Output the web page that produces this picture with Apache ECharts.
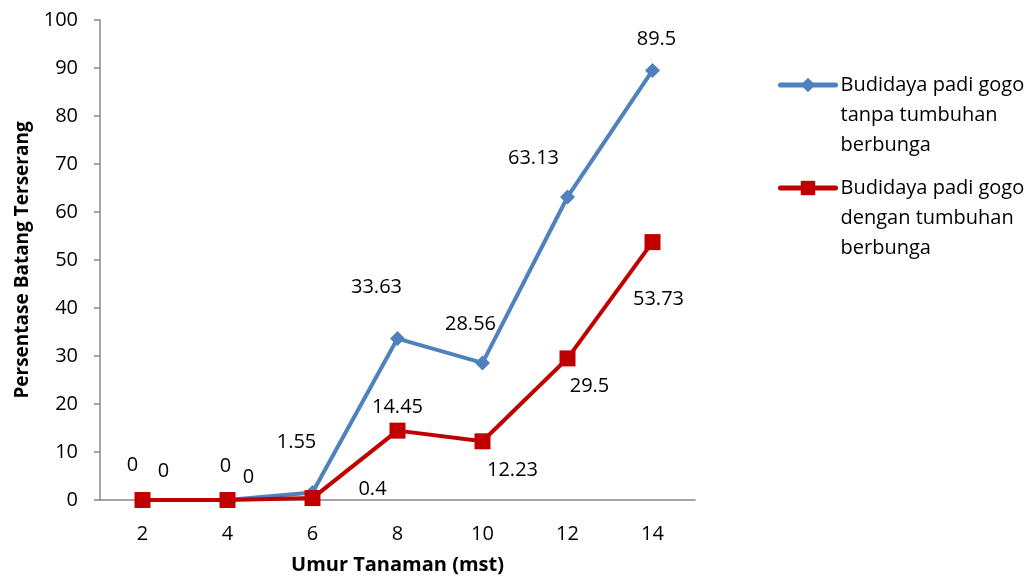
<!DOCTYPE html>
<html>
<head>
<meta charset="utf-8">
<script src="https://cdn.jsdelivr.net/npm/echarts@6/dist/echarts.min.js"></script>
<style>
  html, body { margin: 0; padding: 0; background: #fff; }
  #chart { width: 1032px; height: 584px; }
</style>
</head>
<body>
<div id="chart"></div>
<script>
// Umur tanaman (minggu setelah tanam)
const categories = ['2', '4', '6', '8', '10', '12', '14'];
const tanpaBunga = [0, 0, 1.55, 33.63, 28.56, 63.13, 89.5];
const denganBunga = [0, 0, 0.4, 14.45, 12.23, 29.5, 53.73];
const nameTanpa = 'Budidaya padi gogo\ntanpa tumbuhan\nberbunga';
const nameDengan = 'Budidaya padi gogo\ndengan tumbuhan\nberbunga';

// label placement relative to each point (pixels)
const offsetsTanpa = [[-10, -35], [-2, -34], [-16, -50], [-21, -51], [-12, -39], [-34, -39], [4, -31]];
const offsetsDengan = [[21, -29], [21, -23], [60, -9], [0, -23], [30, 29], [22, 28], [6, 57]];

const FONT = '"Open Sans", "Noto Sans", sans-serif';
const BLUE = '#4F81BD';
const RED = '#C00000';

function withLabels(values, offsets) {
  return values.map((v, i) => ({
    value: v,
    label: { offset: offsets[i] }
  }));
}

const labelStyle = {
  show: true,
  position: 'inside',
  color: '#000',
  fontFamily: FONT,
  fontSize: 20
};

// two blank lines above keep the icon level with the first text line
const legendBase = {
  left: 778, padding: 0,
  itemWidth: 55, itemHeight: 18,
  formatter: name => '\n\n' + name,
  lineStyle: { width: 5, cap: 'round' },
  textStyle: { fontFamily: FONT, fontSize: 20, color: '#000', lineHeight: 30 }
};

const chart = echarts.init(document.getElementById('chart'));
chart.setOption({
  animation: false,
  backgroundColor: '#fff',
  grid: { left: 100, right: 337, top: 20, bottom: 84 },
  legend: [
    Object.assign({ data: [nameTanpa], top: 10 }, legendBase),
    Object.assign({ data: [nameDengan], top: 113 }, legendBase)
  ],
  xAxis: {
    type: 'category',
    data: categories,
    boundaryGap: true,
    name: 'Umur Tanaman (mst)',
    nameLocation: 'middle',
    nameGap: 55,
    nameTextStyle: { fontFamily: FONT, fontSize: 20, fontWeight: 'bold', color: '#000' },
    axisLine: { lineStyle: { color: '#888', width: 1.5 } },
    axisTick: { show: false },
    axisLabel: { fontFamily: FONT, fontSize: 20, color: '#000', margin: 24 },
    splitLine: { show: false }
  },
  yAxis: {
    type: 'value',
    min: 0, max: 100, interval: 10,
    name: 'Persentase Batang Terserang',
    nameLocation: 'middle',
    nameGap: 68,
    nameTextStyle: { fontFamily: FONT, fontSize: 19, fontWeight: 'bold', color: '#000' },
    axisLine: { show: true, lineStyle: { color: '#888', width: 1.5 } },
    axisTick: { show: true, length: 6, lineStyle: { color: '#888', width: 1.5 } },
    axisLabel: { fontFamily: FONT, fontSize: 20, color: '#000', margin: 22 },
    splitLine: { show: false }
  },
  series: [
    {
      name: nameTanpa,
      type: 'line',
      data: withLabels(tanpaBunga, offsetsTanpa),
      symbol: 'diamond',
      symbolSize: 15,
      color: BLUE,
      lineStyle: { color: BLUE, width: 4 },
      itemStyle: { color: BLUE },
      label: labelStyle,
      z: 2
    },
    {
      name: nameDengan,
      type: 'line',
      data: withLabels(denganBunga, offsetsDengan),
      symbol: 'rect',
      symbolSize: 16,
      color: RED,
      lineStyle: { color: RED, width: 4 },
      itemStyle: { color: RED },
      label: labelStyle,
      z: 3
    }
  ]
});
</script>
</body>
</html>
